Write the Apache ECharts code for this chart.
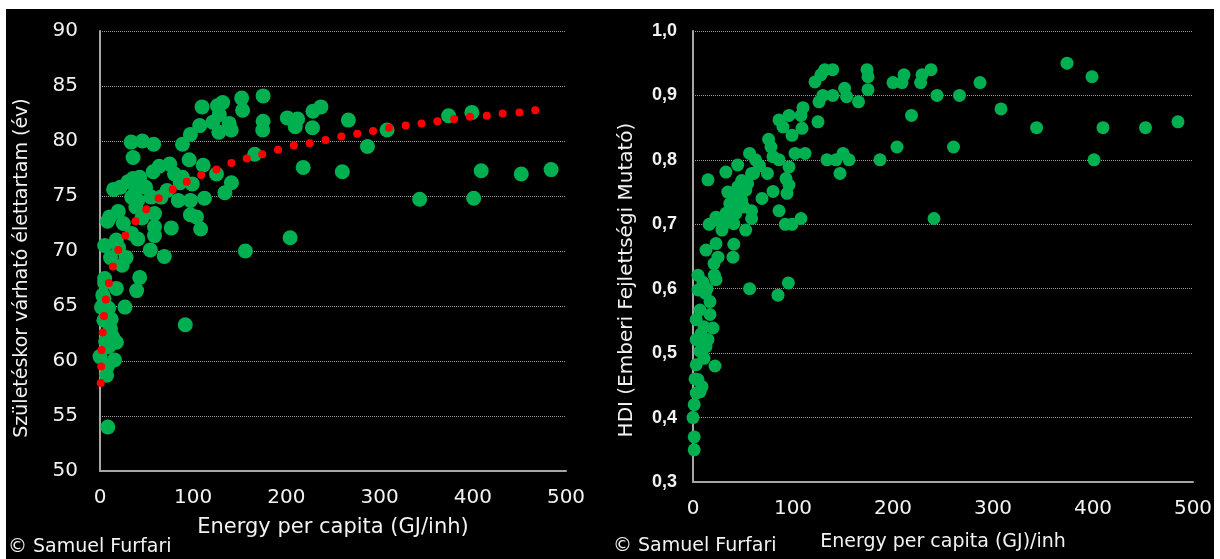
<!DOCTYPE html>
<html>
<head>
<meta charset="utf-8">
<script src="https://cdn.jsdelivr.net/npm/echarts@6/dist/echarts.min.js"></script>
<style>
html,body{margin:0;padding:0;background:#ffffff;}
#chart{position:absolute;left:0;top:0;width:1220px;height:559px;}
</style>
</head>
<body>
<div id="chart"></div>
<script>
// ---- Data ----
// Left: energy per capita (GJ/inh) vs life expectancy at birth (years)
const lifeExpPoints = [
  [33.4,79.9],[45.5,80.0],[57.6,79.7],[35.5,78.5],[88.5,79.7],[97,80.6],[107,81.4],[109.5,83.1],
  [126,83.2],[131.6,83.5],[128,82.4],[121,81.7],[138.6,81.6],[127.5,80.8],[140.8,81.0],[152,83.9],
  [153,82.8],[175,84.1],[175,81.8],[174.6,81.0],[201,82.1],[212,82.0],[209.5,81.3],[228.5,82.7],
  [237,83.1],[228,81.2],[266.5,81.9],[287,79.5],[308,81.0],[374,82.3],[399,82.6],[166,78.8],
  [218,77.6],[260,77.2],[343,74.7],[401,74.8],[409,77.3],[452,77.0],[484,77.4],[204,71.2],
  [156,70.0],[95.7,78.3],[110.7,77.8],[125,77.0],[141,76.2],[134,75.3],[112,74.8],[97,74.6],
  [84,74.6],[97,73.3],[103.5,73.1],[108,72.0],[76.5,72.1],[74.8,77.9],[63.5,77.7],[57,77.2],
  [80,77.0],[88.5,76.7],[99,76.1],[86,76.2],[72,75.5],[65.6,74.9],[58.5,73.4],[58.5,72.2],
  [58.5,71.4],[54,70.1],[69,69.5],[35.5,76.6],[42.6,76.7],[30,76.3],[38.4,75.5],[40.5,74.6],
  [34,74.9],[49,75.8],[55,74.9],[38.4,74.0],[21.7,75.8],[14.6,75.6],[19.6,73.6],[10.4,73.1],
  [8,72.7],[5,70.5],[17.5,71.0],[34,71.6],[40.5,71.1],[11.3,69.4],[28,69.4],[23.8,68.7],
  [42.6,67.6],[39.3,66.4],[17.6,66.6],[26.8,64.9],[4.2,65.7],[1.7,64.9],[9.2,64.8],[4.2,63.7],
  [11.3,62.9],[13.4,62.2],[17.6,61.7],[9.2,61.3],[0,60.4],[15.5,60.1],[7.1,58.7],[91.5,63.3],
  [8.4,54.0],[5,67.1],[5,67.5],[3,66.0],[6,61.8],[12,63.8],[8,59.5],[20,70.3],[25,72.5],[45,73.0]
];
// Left: dotted red logarithmic trend line (dots)
const trendPoints = [
  [0.8,58.0],[1.3,59.5],[1.7,61.0],[2.9,62.6],[4.2,64.1],[6.3,65.6],[9.5,67.1],[13.8,68.6],
  [19.6,70.1],[27.2,71.4],[38,72.7],[49.7,73.8],[63,74.8],[78,75.6],[93,76.3],[108.6,76.9],
  [125,77.4],[141,78.0],[157.5,78.4],[174,78.8],[191,79.2],[208,79.6],[225,79.8],[242,80.1],
  [259,80.4],[276,80.65],[293,80.9],[310,81.2],[328,81.4],[345,81.6],[362,81.8],[380,82.0],
  [397,82.2],[415,82.3],[432,82.5],[450,82.6],[467,82.8]
];
// Right: energy per capita (GJ/inh) vs HDI
const hdiPoints = [
  [374,0.950],[399,0.929],[287,0.920],[266.5,0.900],[244,0.900],[308,0.879],[343.6,0.850],[410,0.850],
  [452.5,0.850],[485,0.859],[218.5,0.869],[204,0.820],[260.5,0.820],[401,0.800],[187,0.800],[241,0.709],
  [238,0.940],[229,0.932],[227.6,0.920],[211,0.932],[209,0.920],[200,0.920],[174,0.940],[175,0.929],
  [175,0.909],[165.5,0.890],[151.6,0.911],[153.6,0.898],[139.7,0.940],[131.8,0.940],[127.9,0.932],[122,0.921],
  [139.7,0.900],[129.9,0.900],[126,0.890],[125,0.859],[110,0.881],[108,0.869],[96,0.869],[109,0.849],
  [99,0.838],[86,0.862],[90,0.851],[112,0.810],[102,0.810],[134,0.800],[143,0.800],[150,0.810],
  [156,0.800],[147,0.779],[78,0.820],[75.6,0.832],[80,0.805],[74.4,0.779],[86,0.800],[96,0.789],
  [93,0.771],[96,0.761],[94,0.748],[80,0.751],[69,0.740],[56.6,0.810],[62.6,0.800],[66.5,0.791],
  [60.6,0.779],[44.7,0.792],[32.9,0.781],[15,0.769],[86,0.721],[92.3,0.700],[99,0.700],[108,0.709],
  [58.6,0.721],[58.6,0.709],[52.7,0.691],[40.8,0.669],[40,0.649],[16.2,0.700],[23,0.711],[29,0.691],
  [23,0.670],[13,0.660],[25,0.649],[21,0.639],[34.8,0.750],[36.8,0.732],[40.8,0.740],[44.7,0.758],
  [46.7,0.742],[48.7,0.768],[52.7,0.753],[54.6,0.763],[50.7,0.727],[42.8,0.717],[36.8,0.706],[32.9,0.717],
  [31,0.701],[40.8,0.701],[58.6,0.779],[48.7,0.737],[44.7,0.727],[38.8,0.747],[25,0.706],[5,0.621],
  [21.4,0.621],[95.4,0.609],[56.6,0.600],[85,0.590],[5,0.598],[12.3,0.593],[17,0.580],[7,0.567],
  [17,0.560],[3.2,0.552],[11,0.541],[20,0.539],[3.2,0.521],[15,0.521],[7,0.503],[11,0.492],
  [3.2,0.482],[22,0.480],[5,0.459],[9,0.448],[3.2,0.438],[7,0.440],[1.2,0.420],[0,0.400],
  [1.2,0.370],[1.2,0.350],[23,0.614],[10,0.610],[14,0.600],[8,0.530],[13,0.510],[2,0.460]
];
const xTickValues = [0, 100, 200, 300, 400, 500];
const leftTitles = { x: 'Energy per capita (GJ/inh)', y: 'Születéskor várható élettartam (év)' };
const rightTitles = { x: 'Energy per capita (GJ)/inh', y: 'HDI (Emberi Fejlettségi Mutató)' };
const credit = '© Samuel Furfari';

// ---- Chart ----
const chart = echarts.init(document.getElementById('chart'), null, { renderer: 'canvas' });
const TXT = '#f2f2f2';
const FONT = 'DejaVu Sans';
const axisLine = { show: true, lineStyle: { color: '#a6a6a6', width: 2 } };
const gridLine = { show: true, lineStyle: { color: '#9a9a9a', width: 1, type: [1, 1] } };

const option = {
  backgroundColor: '#ffffff',
  animation: false,
  graphic: [
    { type: 'rect', z: -10, shape: { x: 6, y: 9, width: 1208, height: 550 }, style: { fill: '#000000' } },
    { type: 'text', x: 22, y: 268, rotation: Math.PI / 2,
      style: { text: leftTitles.y, fill: TXT, font: '19px "DejaVu Sans"', textAlign: 'center', textVerticalAlign: 'middle' } },
    { type: 'text', x: 627, y: 280, rotation: Math.PI / 2,
      style: { text: rightTitles.y, fill: TXT, font: '20px "DejaVu Sans"', textAlign: 'center', textVerticalAlign: 'middle' } },
    { type: 'text', x: 333, y: 528,
      style: { text: leftTitles.x, fill: TXT, font: '21px "DejaVu Sans"', textAlign: 'center', textVerticalAlign: 'middle' } },
    { type: 'text', x: 943, y: 542,
      style: { text: rightTitles.x, fill: TXT, font: '19px "DejaVu Sans"', textAlign: 'center', textVerticalAlign: 'middle' } },
    { type: 'text', x: 8, y: 547,
      style: { text: credit, fill: TXT, font: '19px "DejaVu Sans"', textAlign: 'left', textVerticalAlign: 'middle' } },
    { type: 'text', x: 613, y: 546,
      style: { text: credit, fill: TXT, font: '19px "DejaVu Sans"', textAlign: 'left', textVerticalAlign: 'middle' } }
  ],
  grid: [
    { left: 100, top: 31, width: 466, height: 440, containLabel: false },
    { left: 693, top: 31, width: 500, height: 451, containLabel: false }
  ],
  xAxis: [
    { gridIndex: 0, type: 'value', min: xTickValues[0], max: xTickValues[xTickValues.length - 1], interval: 100,
      axisLine: axisLine, axisTick: { show: false }, splitLine: { show: false },
      axisLabel: { color: TXT, fontFamily: FONT, fontSize: 20, margin: 17 } },
    { gridIndex: 1, type: 'value', min: xTickValues[0], max: xTickValues[xTickValues.length - 1], interval: 100,
      axisLine: axisLine, axisTick: { show: false }, splitLine: { show: false },
      axisLabel: { color: TXT, fontFamily: FONT, fontSize: 20, margin: 17 } }
  ],
  yAxis: [
    { gridIndex: 0, type: 'value', min: 50, max: 90, interval: 5,
      axisLine: axisLine, axisTick: { show: false }, splitLine: gridLine,
      axisLabel: { color: TXT, fontFamily: FONT, fontSize: 20, margin: 22 } },
    { gridIndex: 1, type: 'value', min: 0.3, max: 1.0, interval: 0.1,
      axisLine: axisLine, axisTick: { show: false }, splitLine: gridLine,
      axisLabel: { color: TXT, fontFamily: 'Liberation Sans', fontWeight: 'bold', fontSize: 18, margin: 16,
        formatter: v => v.toFixed(1).replace('.', ',') } }
  ],
  series: [
    { type: 'scatter', xAxisIndex: 0, yAxisIndex: 0, data: lifeExpPoints, symbolSize: 15,
      itemStyle: { color: '#00b050', opacity: 1 }, z: 2 },
    { type: 'scatter', xAxisIndex: 0, yAxisIndex: 0, data: trendPoints, symbolSize: 8,
      itemStyle: { color: '#ff0000', opacity: 1 }, z: 3 },
    { type: 'scatter', xAxisIndex: 1, yAxisIndex: 1, data: hdiPoints, symbolSize: 13,
      itemStyle: { color: '#00b050', opacity: 1 }, z: 2 }
  ]
};
chart.setOption(option);
</script>
</body>
</html>
